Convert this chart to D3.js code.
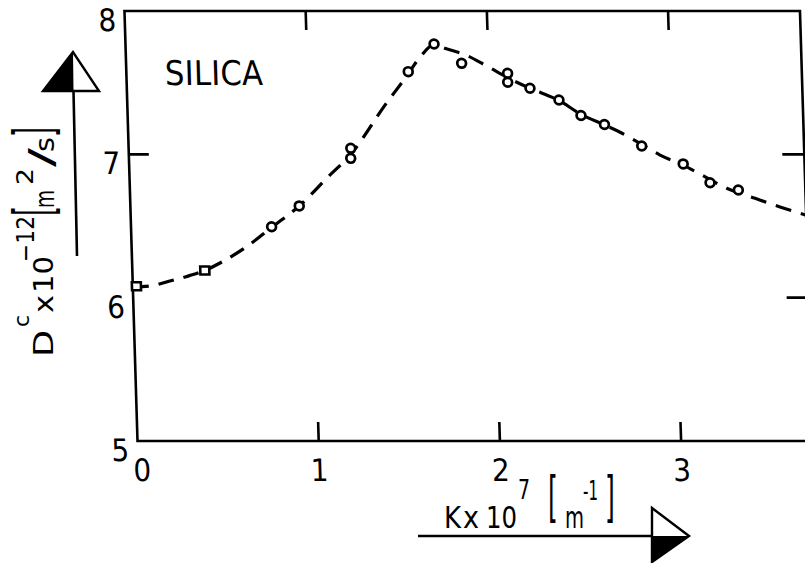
<!DOCTYPE html>
<html><head><meta charset="utf-8">
<script src="https://cdn.jsdelivr.net/npm/d3@7"></script>
<style>
html,body{margin:0;padding:0;background:#fff;}
svg{display:block;}
text{font-family:"Liberation Sans Narrow","DejaVu Sans Condensed","Liberation Sans",sans-serif;fill:#000;}
</style></head><body>
<svg id="chart" width="805" height="563"></svg>
<script>
// ---- data ----
const xTicks = [0, 1, 2, 3];
const yTicks = [5, 6, 7, 8];
const xDomain = [0, 3.728];
const yDomain = [5, 8];
const curveK = [0, 0.1, 0.2, 0.3, 0.4, 0.5, 0.635, 0.776, 0.932, 1.088, 1.224, 1.432, 1.537, 1.623, 1.703, 1.762, 1.881, 1.99, 2.103, 2.225, 2.383, 2.502, 2.63, 2.715, 2.832, 2.932, 3.058, 3.149, 3.294, 3.449, 3.585, 3.728];
const curveD = [6.075, 6.082, 6.115, 6.148, 6.19, 6.252, 6.356, 6.49, 6.64, 6.833, 7.0, 7.36, 7.53, 7.677, 7.765, 7.74, 7.69, 7.616, 7.535, 7.461, 7.375, 7.28, 7.205, 7.154, 7.07, 6.995, 6.925, 6.863, 6.763, 6.693, 6.633, 6.575];
const circleK = [0.776, 0.932, 1.224, 1.226, 1.556, 1.703, 1.852, 2.104, 2.103, 2.225, 2.383, 2.502, 2.630, 2.832, 3.058, 3.203, 3.358];
const circleD = [6.495, 6.64, 6.972, 7.042, 7.577, 7.77, 7.635, 7.565, 7.503, 7.461, 7.379, 7.271, 7.208, 7.058, 6.933, 6.802, 6.751];
const squareK = [0.02, 0.40];
const squareD = [6.08, 6.19];
const panelLabel = "SILICA";

// ---- layout ----
const W = 805, H = 563;
const x = d3.scaleLinear().domain(xDomain).range([137.5, 813]);
const y = d3.scaleLinear().domain(yDomain).range([441, 11]);
const skewDeg = Math.atan(0.0303) * 180 / Math.PI;
const INK = "#000";

const svg = d3.select("#chart");
svg.append("rect").attr("width", W).attr("height", H).attr("fill", "#fff");

// plot group, slightly sheared like the scanned original
const g = svg.append("g")
  .attr("transform", `translate(0,441) skewX(${skewDeg}) translate(0,-441)`);

// frame
g.append("rect")
  .attr("x", x(xDomain[0])).attr("y", y(yDomain[1]))
  .attr("width", x(xDomain[1]) - x(xDomain[0]))
  .attr("height", y(yDomain[0]) - y(yDomain[1]))
  .attr("fill", "none").attr("stroke", INK).attr("stroke-width", 2.6);

const tickLen = 19;
const innerX = xTicks.filter(t => t > 0);
// bottom ticks
g.selectAll("line.bt").data(innerX).enter().append("line")
  .attr("x1", d => x(d)).attr("x2", d => x(d))
  .attr("y1", y(5)).attr("y2", y(5) - tickLen)
  .attr("stroke", INK).attr("stroke-width", 2.6);
// top ticks
g.selectAll("line.tt").data(innerX).enter().append("line")
  .attr("x1", d => x(d)).attr("x2", d => x(d))
  .attr("y1", y(8)).attr("y2", y(8) + tickLen)
  .attr("stroke", INK).attr("stroke-width", 2.6);
// left tick(s)
g.selectAll("line.lt").data([7]).enter().append("line")
  .attr("x1", x(0)).attr("x2", x(0) + 20)
  .attr("y1", d => y(d)).attr("y2", d => y(d))
  .attr("stroke", INK).attr("stroke-width", 2.6);
// right ticks
g.selectAll("line.rt").data([6, 7]).enter().append("line")
  .attr("x1", x(xDomain[1])).attr("x2", x(xDomain[1]) - 22)
  .attr("y1", d => y(d)).attr("y2", d => y(d))
  .attr("stroke", INK).attr("stroke-width", 2.6);

// tick labels
g.selectAll("text.xt").data(xTicks).enter().append("text")
  .attr("x", d => x(d)).attr("dx", d => d === 0 ? 4 : 0)
  .attr("y", 481).attr("text-anchor", "middle")
  .attr("font-size", 31).text(d => d);
g.selectAll("text.yt").data(yTicks).enter().append("text")
  .attr("x", x(0) - 17.5).attr("y", d => y(d) + 20)
  .attr("text-anchor", "middle")
  .attr("font-size", 31).text(d => d);

// dashed curve
const line = d3.line().x(d => x(d[0])).y(d => y(d[1])).curve(d3.curveMonotoneX);
g.append("path").datum(curveK.map((k, i) => [k, curveD[i]]))
  .attr("d", line).attr("fill", "none").attr("stroke", INK)
  .attr("stroke-width", 3.2).attr("stroke-dasharray", "16,10");

// markers
g.selectAll("circle.pt").data(circleK.map((k, i) => [k, circleD[i]])).enter().append("circle")
  .attr("cx", d => x(d[0])).attr("cy", d => y(d[1])).attr("r", 4.4)
  .attr("fill", "#fff").attr("stroke", INK).attr("stroke-width", 2.7);
const sq = 9;
g.selectAll("rect.pt").data(squareK.map((k, i) => [k, squareD[i]])).enter().append("rect")
  .attr("x", d => x(d[0]) - sq / 2).attr("y", d => y(d[1]) - sq / 2 + 0.5)
  .attr("width", sq).attr("height", sq - 1)
  .attr("fill", "#fff").attr("stroke", INK).attr("stroke-width", 2.6);

// panel label
g.append("text").attr("x", 176).attr("y", 85).attr("font-size", 34)
  .attr("textLength", 98).attr("lengthAdjust", "spacing").text(panelLabel);

// ---- helpers ----
function piece(parent, s, px, py, fs, len) {
  const t = parent.append("text").attr("x", px).attr("y", py).attr("font-size", fs).text(s);
  if (len) t.attr("textLength", len).attr("lengthAdjust", "spacingAndGlyphs");
  return t;
}
function bracket(parent, s, px, py) {
  parent.append("g").attr("transform", `translate(${px},${py}) scale(1,1.95)`)
    .append("text").attr("x", 0).attr("y", 0).attr("font-size", 28).text(s);
}

// ---- x axis title with arrow ----
const xl = svg.append("g");
piece(xl, "K", 444, 528, 31, 17);
piece(xl, "x", 463, 528, 31, 16);
piece(xl, "10", 486, 528, 31, 31);
piece(xl, "7", 518, 499, 26, 12);
bracket(xl, "[", 548, 516);
piece(xl, "m", 565, 528, 31, 19);
piece(xl, "-1", 583, 500, 26, 15);
bracket(xl, "]", 605, 516);

xl.append("line").attr("x1", 418).attr("x2", 652).attr("y1", 536).attr("y2", 536)
  .attr("stroke", INK).attr("stroke-width", 2.6);
xl.append("path").attr("d", "M652,536 L689,536 L652,562 Z").attr("fill", INK);
xl.append("path").attr("d", "M652,508 L689,536 L652,562 Z")
  .attr("fill", "none").attr("stroke", INK).attr("stroke-width", 2.4).attr("stroke-linejoin", "miter");

// ---- y axis title with arrow (rotated) ----
const yl = svg.append("g").attr("transform", "rotate(-90)");
// coordinates: x = -pageY (start), y = pageX (baseline)
piece(yl, "D", -357, 53, 27, 27);
piece(yl, "c", -327, 29, 22, 12);
piece(yl, "x", -313, 53, 27, 18);
piece(yl, "10", -293, 53, 27, 37);
piece(yl, "\u221212", -262, 34, 25, 46);
bracket(yl, "[", -216, 53);
piece(yl, "m", -208, 54, 27, 18);
piece(yl, "2", -185, 33, 23, 17);
piece(yl, "/", -167, 53, 34, 19);
piece(yl, "s", -152, 54, 26, 15);
bracket(yl, "]", -137, 53);

svg.append("line").attr("x1", 73.5).attr("y1", 91).attr("x2", 77).attr("y2", 256)
  .attr("stroke", INK).attr("stroke-width", 2.6);
svg.append("path").attr("d", "M73,52 L43,91 L73.5,91 Z").attr("fill", INK);
svg.append("path").attr("d", "M73,52 L43,91 L99,91 Z")
  .attr("fill", "none").attr("stroke", INK).attr("stroke-width", 2.4);
</script>
</body></html>
